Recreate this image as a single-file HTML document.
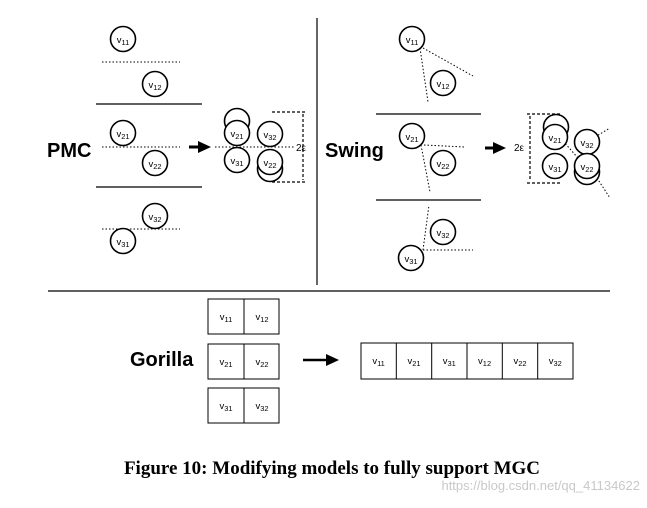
<!DOCTYPE html><html><head><style>body{margin:0;background:#fff}svg text{font-family:"Liberation Sans",sans-serif}</style></head><body>
<svg width="647" height="503" xmlns="http://www.w3.org/2000/svg">
<defs>
<g id="c"><circle r="12.5" fill="#fff" stroke="#000" stroke-width="1.6"/></g>
</defs>
<style>.d{stroke:#000;stroke-width:1;stroke-dasharray:1.5,2;fill:none}.s{stroke:#000;stroke-width:1.2}.ds{stroke:#000;stroke-width:1.2;stroke-dasharray:3,2;fill:none}.l{font-size:9.5px}.b{font-size:20px;font-weight:bold}</style>
<line x1="317" y1="18" x2="317" y2="285" class="s"/>
<line x1="48" y1="291" x2="610" y2="291" class="s"/>
<!-- PMC -->
<text x="47" y="157" class="b">PMC</text>
<line x1="102" y1="62" x2="180" y2="62" class="d"/>
<line x1="96" y1="104" x2="202" y2="104" class="s"/>
<line x1="102" y1="147" x2="180" y2="147" class="d"/>
<line x1="96" y1="187" x2="202" y2="187" class="s"/>
<line x1="102" y1="229" x2="180" y2="229" class="d"/>
<use href="#c" x="123" y="39"/><use href="#c" x="155" y="84"/><use href="#c" x="123" y="133"/><use href="#c" x="155" y="163"/><use href="#c" x="155" y="216"/><use href="#c" x="123" y="241"/>
<g class="l" text-anchor="middle">
<text x="123" y="43">v<tspan font-size="7.5" dy="2">11</tspan></text>
<text x="155" y="88">v<tspan font-size="7.5" dy="2">12</tspan></text>
<text x="123" y="137">v<tspan font-size="7.5" dy="2">21</tspan></text>
<text x="155" y="167">v<tspan font-size="7.5" dy="2">22</tspan></text>
<text x="155" y="220">v<tspan font-size="7.5" dy="2">32</tspan></text>
<text x="123" y="245">v<tspan font-size="7.5" dy="2">31</tspan></text>
</g>
<line x1="189" y1="147" x2="200" y2="147" stroke="#000" stroke-width="3"/>
<path d="M198,141L211,147L198,153z" fill="#000"/>
<line x1="215" y1="147" x2="295" y2="147" class="d"/>
<path d="M272,112H305M272,182H305" class="ds"/>
<line x1="303" y1="114" x2="303" y2="180" class="ds"/>
<text x="296" y="151" font-size="10">2ε</text>
<use href="#c" x="237" y="121"/><use href="#c" x="237" y="133"/><use href="#c" x="237" y="160"/><use href="#c" x="270" y="134"/><use href="#c" x="270" y="169"/><use href="#c" x="270" y="162"/>
<g class="l" text-anchor="middle">
<text x="237" y="137">v<tspan font-size="7.5" dy="2">21</tspan></text>
<text x="237" y="164">v<tspan font-size="7.5" dy="2">31</tspan></text>
<text x="270" y="138">v<tspan font-size="7.5" dy="2">32</tspan></text>
<text x="270" y="166">v<tspan font-size="7.5" dy="2">22</tspan></text>
</g>
<!-- Swing -->
<text x="325" y="157" class="b">Swing</text>
<path d="M423,48L473,76M420,48L428,102M424,145L465,147M421,145L430,192M423,250L473,250M423,250L429,205M595,137L610,128M595,175L610,198M563,141L578,158" class="d"/>
<line x1="376" y1="114" x2="481" y2="114" class="s"/>
<line x1="376" y1="200" x2="481" y2="200" class="s"/>
<use href="#c" x="412" y="39"/><use href="#c" x="443" y="83"/><use href="#c" x="412" y="136"/><use href="#c" x="443" y="163"/><use href="#c" x="443" y="232"/><use href="#c" x="411" y="258"/>
<g class="l" text-anchor="middle">
<text x="412" y="43">v<tspan font-size="7.5" dy="2">11</tspan></text>
<text x="443" y="87">v<tspan font-size="7.5" dy="2">12</tspan></text>
<text x="412" y="140">v<tspan font-size="7.5" dy="2">21</tspan></text>
<text x="443" y="167">v<tspan font-size="7.5" dy="2">22</tspan></text>
<text x="443" y="236">v<tspan font-size="7.5" dy="2">32</tspan></text>
<text x="411" y="262">v<tspan font-size="7.5" dy="2">31</tspan></text>
</g>
<line x1="485" y1="148" x2="495" y2="148" stroke="#000" stroke-width="3"/>
<path d="M493,142L506,148L493,154z" fill="#000"/>
<text x="514" y="151" font-size="10">2ε</text>
<path d="M527,114H562M527,183H562" class="ds"/>
<line x1="530" y1="116" x2="530" y2="181" class="ds"/>
<use href="#c" x="556" y="127"/><use href="#c" x="555" y="137"/><use href="#c" x="555" y="166"/><use href="#c" x="587" y="142"/><use href="#c" x="587" y="172"/><use href="#c" x="587" y="166"/>
<g class="l" text-anchor="middle">
<text x="555" y="141">v<tspan font-size="7.5" dy="2">21</tspan></text>
<text x="555" y="170">v<tspan font-size="7.5" dy="2">31</tspan></text>
<text x="587" y="146">v<tspan font-size="7.5" dy="2">32</tspan></text>
<text x="587" y="170">v<tspan font-size="7.5" dy="2">22</tspan></text>
</g>
<!-- Gorilla -->
<text x="130" y="366" class="b">Gorilla</text>
<g fill="none" stroke="#000" stroke-width="1">
<rect x="208" y="299" width="71" height="35"/><line x1="244" y1="299" x2="244" y2="334"/>
<rect x="208" y="344" width="71" height="35"/><line x1="244" y1="344" x2="244" y2="379"/>
<rect x="208" y="388" width="71" height="35"/><line x1="244" y1="388" x2="244" y2="423"/>
<rect x="361" y="343" width="212" height="36"/>
<path d="M396.3,343V379M431.7,343V379M467,343V379M502.3,343V379M537.7,343V379"/>
</g>
<g class="l" text-anchor="middle">
<text x="226" y="320">v<tspan font-size="7.5" dy="2">11</tspan></text><text x="262" y="320">v<tspan font-size="7.5" dy="2">12</tspan></text>
<text x="226" y="365">v<tspan font-size="7.5" dy="2">21</tspan></text><text x="262" y="365">v<tspan font-size="7.5" dy="2">22</tspan></text>
<text x="226" y="409">v<tspan font-size="7.5" dy="2">31</tspan></text><text x="262" y="409">v<tspan font-size="7.5" dy="2">32</tspan></text>
<text x="378.6" y="364">v<tspan font-size="7.5" dy="2">11</tspan></text>
<text x="414" y="364">v<tspan font-size="7.5" dy="2">21</tspan></text>
<text x="449.3" y="364">v<tspan font-size="7.5" dy="2">31</tspan></text>
<text x="484.6" y="364">v<tspan font-size="7.5" dy="2">12</tspan></text>
<text x="520" y="364">v<tspan font-size="7.5" dy="2">22</tspan></text>
<text x="555.3" y="364">v<tspan font-size="7.5" dy="2">32</tspan></text>
</g>
<line x1="303" y1="360" x2="328" y2="360" stroke="#000" stroke-width="2.5"/>
<path d="M326,354L339,360L326,366z" fill="#000"/>
<text x="332" y="474" text-anchor="middle" style="font-family:'Liberation Serif',serif;font-weight:bold;font-size:19px">Figure 10: Modifying models to fully support MGC</text>
<text x="640" y="490" text-anchor="end" fill="#c8c8c8" font-size="13">https://blog.csdn.net/qq_41134622</text>
</svg>
</body></html>
